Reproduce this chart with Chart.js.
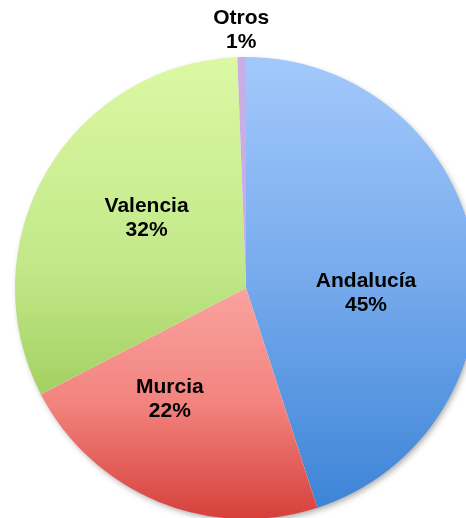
<!DOCTYPE html>
<html>
<head>
<meta charset="utf-8">
<script src="https://cdn.jsdelivr.net/npm/chart.js@4"></script>
<style>
  html, body { margin: 0; padding: 0; background: #fff; overflow: hidden; }
</style>
</head>
<body>
<canvas id="pieChart" width="466" height="518"></canvas>
<script>
const regions = ["Andalucía", "Murcia", "Valencia", "Otros"];
const shares = [45, 22.4, 32, 0.6];

// vertical gradient stops per slice (over the whole pie height)
const sliceStops = [
  [[0, "#a3c9fb"], [0.5, "#74a9ec"], [1, "#3a82d5"]],
  [[0.5, "#faa39f"], [0.75, "#f2837e"], [1, "#d6403b"]],
  [[0, "#dcf8a3"], [0.45, "#c2e88a"], [0.8, "#9ccb57"]],
  [[0, "#c9aee6"], [1, "#c9aee6"]],
];

// label placement: turn (degrees past mid-angle) and distance (fraction of radius)
const labelTurn = [11.4, 12, 4.7, 0];
const labelDist = [0.52, 0.585, 0.525, 0];

const pieRadius = 231;

function sliceFill(context) {
  const chart = context.chart;
  const area = chart.chartArea;
  if (!area) return "#ccc";
  const cy = (area.top + area.bottom) / 2;
  const g = chart.ctx.createLinearGradient(0, cy - pieRadius, 0, cy + pieRadius);
  sliceStops[context.dataIndex].forEach(function (s) {
    g.addColorStop(s[0], s[1]);
  });
  return g;
}

const pieShadow = {
  id: "pieShadow",
  beforeDatasetsDraw(chart) {
    const arc = chart.getDatasetMeta(0).data[0];
    if (!arc) return;
    const ctx = chart.ctx;
    ctx.save();
    ctx.shadowColor = "rgba(0,0,0,0.35)";
    ctx.shadowBlur = 6;
    ctx.shadowOffsetX = 2;
    ctx.shadowOffsetY = 3;
    ctx.fillStyle = "#fff";
    ctx.beginPath();
    ctx.arc(arc.x, arc.y, arc.outerRadius - 1, 0, Math.PI * 2);
    ctx.fill();
    ctx.restore();
  },
};

const sliceLabels = {
  id: "sliceLabels",
  afterDatasetsDraw(chart) {
    const ctx = chart.ctx;
    const meta = chart.getDatasetMeta(0);
    ctx.save();
    ctx.font = "bold 21px 'Liberation Sans', Arial, sans-serif";
    ctx.fillStyle = "#000";
    ctx.textAlign = "center";
    ctx.textBaseline = "middle";
    meta.data.forEach(function (arc, i) {
      const mid = (arc.startAngle + arc.endAngle) / 2;
      let a, d;
      if (shares[i] < 5) {
        a = mid;
        d = arc.outerRadius + 27;
      } else {
        a = mid + (labelTurn[i] * Math.PI) / 180;
        d = arc.outerRadius * labelDist[i];
      }
      const x = arc.x + Math.cos(a) * d;
      const y = arc.y + Math.sin(a) * d;
      ctx.fillText(regions[i], x, y - 12);
      ctx.fillText(Math.round(shares[i]) + "%", x, y + 12);
    });
    ctx.restore();
  },
};

const ctx = document.getElementById("pieChart").getContext("2d");
const pieChart = new Chart(ctx, {
  type: "pie",
  data: {
    labels: regions,
    datasets: [
      {
        data: shares,
        backgroundColor: sliceFill,
        borderWidth: 0,
        radius: pieRadius,
      },
    ],
  },
  options: {
    responsive: false,
    animation: false,
    layout: {
      padding: { left: 26, top: 58, right: 0, bottom: 0 },
    },
    plugins: {
      legend: { display: false },
      tooltip: { enabled: false },
    },
  },
  plugins: [pieShadow, sliceLabels],
});
</script>
</body>
</html>
